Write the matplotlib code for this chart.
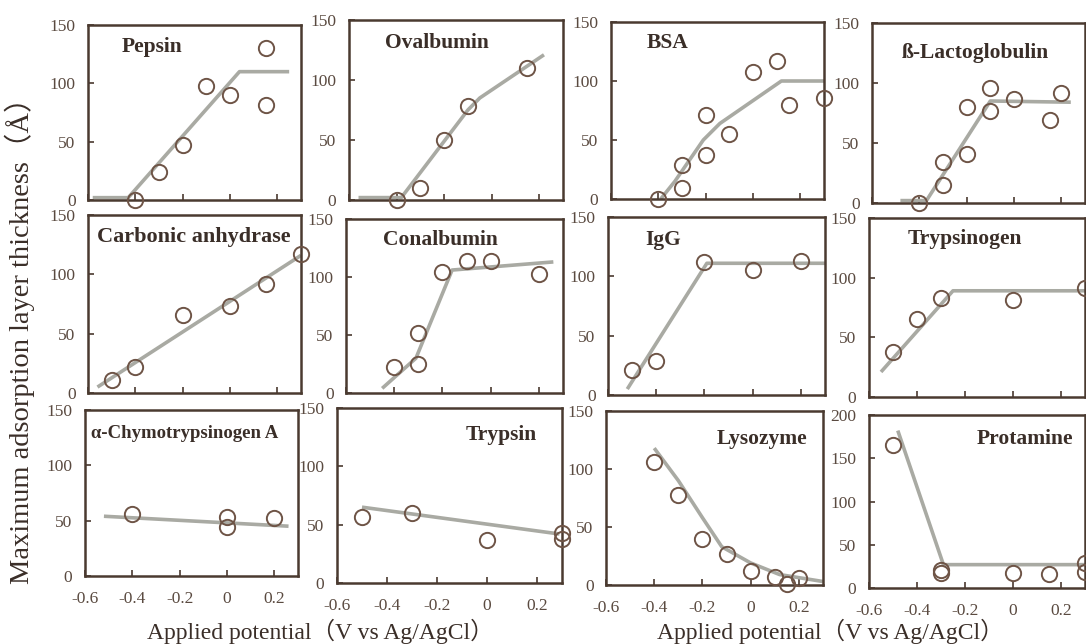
import matplotlib.pyplot as plt

W, H = 1086, 644

plt.rcParams["font.family"] = ["Liberation Serif", "Noto Sans CJK JP"]
plt.rcParams["axes.unicode_minus"] = False

# measured maximum adsorption layer thickness (A) vs applied potential (V)
pepsin_x = [-0.4, -0.3, -0.2, -0.1, 0.0, 0.15, 0.15]
pepsin_y = [0, 24, 47, 98, 90, 130, 81]
pepsin_fit_x = [-0.58, -0.43, 0.04, 0.25]
pepsin_fit_y = [2, 2, 110, 110]

ovalbumin_x = [-0.4, -0.3, -0.2, -0.1, 0.15]
ovalbumin_y = [0, 10, 50, 78, 110]
ovalbumin_fit_x = [-0.56, -0.38, -0.1, -0.05, 0.22]
ovalbumin_fit_y = [2, 2, 75, 85, 121]

bsa_x = [-0.4, -0.3, -0.3, -0.2, -0.2, -0.1, 0.0, 0.1, 0.15, 0.3]
bsa_y = [0, 29, 9, 71, 37, 55, 108, 117, 80, 86]
bsa_fit_x = [-0.39, -0.33, -0.21, -0.14, 0.12, 0.3]
bsa_fit_y = [0, 15, 50, 64, 100, 100]

lacto_x = [-0.4, -0.3, -0.3, -0.2, -0.2, -0.1, -0.1, 0.0, 0.15, 0.2]
lacto_y = [0, 15, 34, 80, 41, 96, 77, 87, 69, 92]
lacto_fit_x = [-0.48, -0.37, -0.1, 0.24]
lacto_fit_y = [2, 2, 85, 84]

carbonic_x = [-0.5, -0.4, -0.2, 0.0, 0.15, 0.3]
carbonic_y = [11, 22, 66, 73, 92, 117]
carbonic_fit_x = [-0.56, 0.3]
carbonic_fit_y = [5, 116]

conalbumin_x = [-0.4, -0.3, -0.3, -0.2, -0.1, 0.0, 0.2]
conalbumin_y = [22, 25, 52, 104, 114, 114, 103]
conalbumin_fit_x = [-0.45, -0.31, -0.16, 0.26]
conalbumin_fit_y = [4, 30, 106, 113]

igg_x = [-0.5, -0.4, -0.2, 0.0, 0.2]
igg_y = [21, 29, 112, 105, 113]
igg_fit_x = [-0.52, -0.19, 0.3]
igg_fit_y = [5, 111, 111]

trypsinogen_x = [-0.5, -0.4, -0.3, 0.0, 0.3]
trypsinogen_y = [38, 65, 83, 81, 91]
trypsinogen_fit_x = [-0.55, -0.25, 0.3]
trypsinogen_fit_y = [21, 89, 89]

chymo_x = [-0.4, 0.0, 0.0, 0.2]
chymo_y = [56, 53, 44, 52]
chymo_fit_x = [-0.52, 0.26]
chymo_fit_y = [54, 45]

trypsin_x = [-0.5, -0.3, 0.0, 0.3, 0.3]
trypsin_y = [57, 60, 37, 38, 43]
trypsin_fit_x = [-0.5, 0.29]
trypsin_fit_y = [65, 42]

lysozyme_x = [-0.4, -0.3, -0.2, -0.1, 0.0, 0.1, 0.15, 0.2]
lysozyme_y = [106, 78, 40, 27, 12, 7, 1, 6]
lysozyme_fit_x = [-0.4, -0.3, -0.2, -0.12, 0.0, 0.12, 0.3]
lysozyme_fit_y = [118, 90, 58, 33, 19, 9, 3]

protamine_x = [-0.5, -0.3, -0.3, 0.0, 0.15, 0.3, 0.3]
protamine_y = [165, 21, 17, 17, 16, 29, 19]
protamine_fit_x = [-0.48, -0.29, 0.3]
protamine_fit_y = [182, 27, 27]

x_ticks = [-0.6, -0.4, -0.2, 0, 0.2]
x_ticklabels = ["-0.6", "-0.4", "-0.2", "0", "0.2"]

# panel frames in pixels: left, right, top, bottom ; title anchor px, alignment, size
panels = [
    ("Pepsin", pepsin_x, pepsin_y, pepsin_fit_x, pepsin_fit_y, 150,
     (88, 301, 25, 200), (122, 47, "left", 15.5)),
    ("Ovalbumin", ovalbumin_x, ovalbumin_y, ovalbumin_fit_x, ovalbumin_fit_y, 150,
     (349, 563, 20, 200), (385, 43, "left", 15.5)),
    ("BSA", bsa_x, bsa_y, bsa_fit_x, bsa_fit_y, 150,
     (611, 824, 22, 199), (647, 43, "left", 15.5)),
    ("ß-Lactoglobulin", lacto_x, lacto_y, lacto_fit_x, lacto_fit_y, 150,
     (872, 1085, 23, 203), (902, 53, "left", 15.5)),
    ("Carbonic anhydrase", carbonic_x, carbonic_y, carbonic_fit_x, carbonic_fit_y, 150,
     (88, 301, 215, 393), (97, 237, "left", 16)),
    ("Conalbumin", conalbumin_x, conalbumin_y, conalbumin_fit_x, conalbumin_fit_y, 150,
     (346, 563, 219, 393), (383, 240, "left", 15.5)),
    ("IgG", igg_x, igg_y, igg_fit_x, igg_fit_y, 150,
     (608, 825, 217, 395), (645, 240, "left", 15.5)),
    ("Trypsinogen", trypsinogen_x, trypsinogen_y, trypsinogen_fit_x, trypsinogen_fit_y, 150,
     (869, 1085, 218, 397), (908, 239, "left", 15.5)),
    ("α-Chymotrypsinogen A", chymo_x, chymo_y, chymo_fit_x, chymo_fit_y, 150,
     (85, 298, 410, 576), (91, 433, "left", 13.5)),
    ("Trypsin", trypsin_x, trypsin_y, trypsin_fit_x, trypsin_fit_y, 150,
     (337, 562, 408, 583), (537, 435, "right", 15.5)),
    ("Lysozyme", lysozyme_x, lysozyme_y, lysozyme_fit_x, lysozyme_fit_y, 150,
     (606, 823, 411, 585), (807, 439, "right", 15.5)),
    ("Protamine", protamine_x, protamine_y, protamine_fit_x, protamine_fit_y, 200,
     (869, 1085, 415, 588), (1073, 439, "right", 15.5)),
]

frame_col = "#4a3a30"
mark_col = "#6e5446"
line_col = "#a9aaa3"
text_col = "#3a2e28"
tick_col = "#5a4a40"

fig = plt.figure(figsize=(W / 100, H / 100), dpi=100)

for i, (name, xs, ys, fx, fy, ymax, box, tpos) in enumerate(panels):
    l, r, t, b = box
    ax = fig.add_axes([l / W, 1 - b / H, (r - l) / W, (b - t) / H])
    ax.plot(fx, fy, color=line_col, lw=2.6, solid_capstyle="butt", zorder=2)
    ax.plot(xs, ys, ls="none", marker="o", ms=11, mfc="none", mec=mark_col,
            mew=1.4, clip_on=False, zorder=3)
    ax.set_xlim(-0.6, 0.3)
    ax.set_ylim(0, ymax)
    ax.set_yticks(list(range(0, ymax + 1, 50)))
    ax.set_xticks(x_ticks)
    for s in ax.spines.values():
        s.set_color(frame_col)
        s.set_linewidth(1.8)
    ax.tick_params(direction="in", length=4, width=1.2, color=frame_col,
                   labelsize=12.5, labelcolor=tick_col)
    ax.tick_params(axis="y", pad=9)
    ax.tick_params(axis="x", pad=11)
    if i >= 8:
        ax.set_xticklabels(x_ticklabels)
    else:
        ax.set_xticklabels([])
    tx, ty, ha, fs = tpos
    fig.text(tx / W, 1 - ty / H, name, ha=ha, va="center", fontsize=fs,
             fontweight="bold", color=text_col)

fig.text(20 / W, 1 - 334 / H, "Maximum adsorption layer thickness（Å）",
         rotation=90, ha="center", va="center", fontsize=20.5, color=text_col)
for cx in (320, 830):
    fig.text(cx / W, 1 - 631 / H, "Applied potential（V vs Ag/AgCl）",
             ha="center", va="center", fontsize=17, color=text_col)

fig.savefig("out.png", dpi=100, facecolor="white")
